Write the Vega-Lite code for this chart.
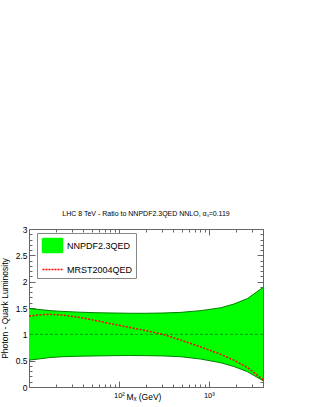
{
  "$schema": "https://vega.github.io/schema/vega-lite/v6.json",
  "width": 234,
  "height": 158,
  "autosize": "none",
  "padding": {"left": 29, "top": 229, "right": 52, "bottom": 20},
  "background": "white",
  "config": {
    "view": {"stroke": null},
    "font": "Liberation Sans",
    "axis": {"grid": false, "domainColor": "#666", "tickColor": "#666", "labelColor": "#000", "titleColor": "#000", "labelFont": "Liberation Sans", "titleFont": "Liberation Sans", "titleFontWeight": "normal", "zindex": 1}
  },
  "title": {"text": "LHC 8 TeV - Ratio to NNPDF2.3QED NNLO, αₛ=0.119", "fontSize": 7, "fontWeight": "normal", "font": "Liberation Sans", "offset": 8, "anchor": "middle", "color": "#000"},
  "data": {"values": [
    {"M": 10, "hi": 1.49, "lo": 0.51, "mrst": 1.347},
    {"M": 13.3, "hi": 1.47, "lo": 0.535, "mrst": 1.37},
    {"M": 17.1, "hi": 1.45, "lo": 0.56, "mrst": 1.38},
    {"M": 23.9, "hi": 1.435, "lo": 0.575, "mrst": 1.366},
    {"M": 36.9, "hi": 1.42, "lo": 0.585, "mrst": 1.32},
    {"M": 57, "hi": 1.41, "lo": 0.59, "mrst": 1.257},
    {"M": 85.8, "hi": 1.405, "lo": 0.595, "mrst": 1.194},
    {"M": 132, "hi": 1.4, "lo": 0.598, "mrst": 1.13},
    {"M": 205, "hi": 1.4, "lo": 0.595, "mrst": 1.067},
    {"M": 308, "hi": 1.405, "lo": 0.59, "mrst": 1.0},
    {"M": 488, "hi": 1.417, "lo": 0.575, "mrst": 0.89},
    {"M": 815, "hi": 1.45, "lo": 0.53, "mrst": 0.76},
    {"M": 1360, "hi": 1.505, "lo": 0.46, "mrst": 0.62},
    {"M": 1896, "hi": 1.575, "lo": 0.39, "mrst": 0.51},
    {"M": 2690, "hi": 1.68, "lo": 0.29, "mrst": 0.37},
    {"M": 4000, "hi": 1.89, "lo": 0.12, "mrst": 0.14}
  ]},
  "resolve": {"axis": {"x": "independent", "y": "independent"}},
  "layer": [
    {
      "mark": {"type": "area", "opacity": 1},
      "encoding": {
        "x": {"field": "M", "type": "quantitative", "scale": {"type": "log", "domain": [10, 4000], "nice": false},
          "axis": {"orient": "bottom", "values": [20, 30, 40, 50, 60, 70, 80, 90, 200, 300, 400, 500, 600, 700, 800, 900, 2000, 3000, 4000], "tickSize": -3, "labels": false, "title": null, "domain": true}},
        "y": {"field": "hi", "type": "quantitative", "scale": {"domain": [0, 3], "nice": false, "zero": false},
          "axis": {"orient": "left", "values": [0.1, 0.2, 0.3, 0.4, 0.6, 0.7, 0.8, 0.9, 1.1, 1.2, 1.3, 1.4, 1.6, 1.7, 1.8, 1.9, 2.1, 2.2, 2.3, 2.4, 2.6, 2.7, 2.8, 2.9], "tickSize": -3, "labels": false, "title": null, "domain": true}},
        "y2": {"field": "lo"},
        "color": {"datum": "NNPDF2.3QED", "type": "nominal",
          "scale": {"domain": ["NNPDF2.3QED", "MRST2004QED"], "range": ["#00ff00", "#ff0000"]},
          "legend": {
            "orient": "none", "legendX": 8, "legendY": 4, "title": null,
            "strokeColor": "#888", "fillColor": "white", "padding": 3.5,
            "symbolSize": 256, "symbolOffset": 3, "rowPadding": 5, "labelOffset": 5.5,
            "labelFontSize": 9, "labelFont": "Liberation Sans", "labelColor": "#000",
            "labelExpr": "datum.label + '\u00a0\u00a0\u00a0\u00a0\u00a0\u00a0'",
            "encoding": {"symbols": {
              "shape": {"value": {"expr": "datum.value == 'NNPDF2.3QED' ? 'M-1.25,-0.875H1.25V0.875H-1.25Z' : 'M-1.25,0H1.25'"}},
              "fill": {"value": {"expr": "datum.value == 'NNPDF2.3QED' ? '#00ff00' : 'transparent'"}},
              "stroke": {"value": {"expr": "datum.value == 'NNPDF2.3QED' ? '#00ff00' : '#ff0000'"}},
              "strokeDash": {"value": {"expr": "datum.value == 'NNPDF2.3QED' ? [1, 0] : [2, 1]"}},
              "strokeWidth": {"value": 1.5},
              "opacity": {"value": 1}
            }}
          }}
      }
    },
    {
      "mark": {"type": "line", "color": "#008000", "strokeWidth": 1},
      "encoding": {
        "x": {"field": "M", "type": "quantitative",
          "axis": {"orient": "bottom", "values": [100, 1000], "tickSize": -6, "domain": false, "labelPadding": 10, "labelFontSize": 7.5,
            "labelExpr": "datum.value == 100 ? '10²' : (datum.value == 1000 ? '10³' : '')",
            "title": "Mₓ (GeV)", "titleFontSize": 8.5, "titleX": 114.5, "titleY": 5, "titleBaseline": "top", "titleAnchor": "middle", "titleAlign": "center"}},
        "y": {"field": "hi", "type": "quantitative",
          "axis": {"orient": "left", "values": [0, 0.5, 1, 1.5, 2, 2.5, 3], "tickSize": -6, "domain": false, "labelPadding": 8, "labelFontSize": 8.5, "format": "~g",
            "title": "Photon - Quark Luminosity", "titleFontSize": 8.5, "titleX": -22, "titleY": 79, "titleAngle": -90, "titleBaseline": "alphabetic", "titleAlign": "center"}}
      }
    },
    {
      "mark": {"type": "line", "color": "#008000", "strokeWidth": 1},
      "encoding": {
        "x": {"field": "M", "type": "quantitative",
          "axis": {"orient": "top", "values": [20, 30, 40, 50, 60, 70, 80, 90, 200, 300, 400, 500, 600, 700, 800, 900, 2000, 3000, 4000], "tickSize": -3, "labels": false, "title": null, "domain": true}},
        "y": {"field": "lo", "type": "quantitative",
          "axis": {"orient": "right", "values": [0.1, 0.2, 0.3, 0.4, 0.6, 0.7, 0.8, 0.9, 1.1, 1.2, 1.3, 1.4, 1.6, 1.7, 1.8, 1.9, 2.1, 2.2, 2.3, 2.4, 2.6, 2.7, 2.8, 2.9], "tickSize": -3, "labels": false, "title": null, "domain": true}}
      }
    },
    {
      "data": {"values": [{"r": 1}]},
      "mark": {"type": "rule", "color": "#006400", "strokeDash": [3, 2], "strokeWidth": 0.7},
      "encoding": {
        "y": {"field": "r", "type": "quantitative", "axis": null}
      }
    },
    {
      "mark": {"type": "line", "strokeDash": [2, 1.5], "strokeWidth": 1.5},
      "encoding": {
        "x": {"field": "M", "type": "quantitative",
          "axis": {"orient": "top", "values": [100, 1000], "tickSize": -6, "labels": false, "title": null, "domain": false}},
        "y": {"field": "mrst", "type": "quantitative",
          "axis": {"orient": "right", "values": [0, 0.5, 1, 1.5, 2, 2.5, 3], "tickSize": -6, "labels": false, "title": null, "domain": false}},
        "color": {"datum": "MRST2004QED", "type": "nominal"}
      }
    }
  ]
}
